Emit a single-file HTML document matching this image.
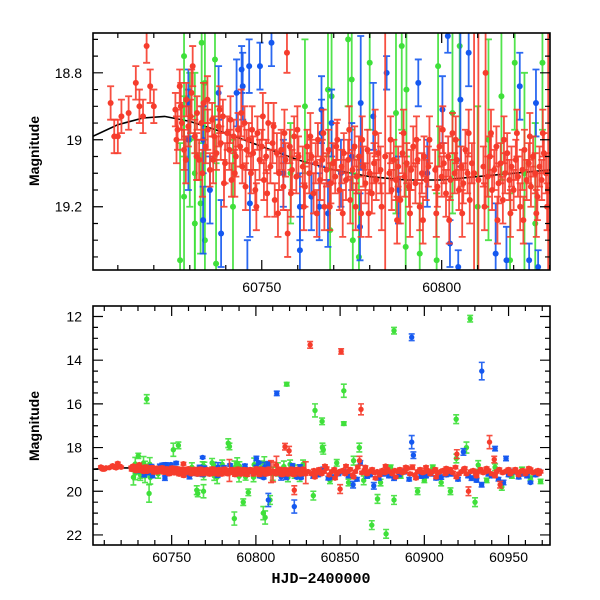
<!DOCTYPE html>
<html><head><meta charset="utf-8"><style>
html,body{margin:0;padding:0;background:#fff;width:600px;height:600px;overflow:hidden;}
svg{display:block;font-family:"Liberation Sans",sans-serif;}
</style></head><body>
<svg id="chart" width="600" height="600" viewBox="0 0 600 600" xmlns="http://www.w3.org/2000/svg">
<defs>
<clipPath id="clipTop"><rect x="93" y="33" width="457" height="237"/></clipPath>
<clipPath id="clipBot"><rect x="93" y="306" width="457" height="239"/></clipPath>
</defs>
<g id="topPlot"></g>
<g id="botPlot"></g>
<text x="0" y="0" transform="translate(39,151) rotate(-90)" text-anchor="middle" font-size="14" font-weight="bold">Magnitude</text>
<text x="0" y="0" transform="translate(39,426) rotate(-90)" text-anchor="middle" font-size="14" font-weight="bold">Magnitude</text>
<text x="321" y="583" text-anchor="middle" font-size="15" font-weight="bold" font-family="Liberation Mono, monospace">HJD−2400000</text>
</svg>
<script>
// ---- data: [time, magnitude, error] ----
const curveT = [60703,60710,60717,60723,60730,60740,60750,60760,60770,60780,60790,60800,60810,60820,60830];
const curveM = [18.99,18.955,18.935,18.93,18.945,18.98,19.02,19.06,19.09,19.11,19.12,19.12,19.11,19.10,19.09];

const greenPts = [
[60727.3,19.36,0.35],[60728.4,18.75,0.3],[60728.4,19.17,0.3],[60731.4,19.25,0.25],[60731.4,19.1,0.3],[60733.3,18.71,0.3],
[60734.2,18.83,0.2],[60734.2,19.3,0.3],[60737,18.76,0.3],[60737.3,19.37,0.3],[60733,19.19,0.15],[60730,19.0,0.2],
[60730.2,18.38,0.12],[60735.2,15.78,0.2],[60736.6,20.1,0.4],[60751,18.1,0.3],[60754,17.9,0.15],[60742,19.2,0.2],
[60758,19.1,0.15],[60762,18.9,0.2],[60764.9,19.95,0.2],[60765.5,20.1,0.15],[60768.9,20.0,0.3],[60768.4,18.85,0.2],
[60769.4,18.87,0.2],[60769,19.27,0.2],[60774,18.70,0.2],[60775,18.82,0.15],[60775.3,19.3,0.2],[60777,19.35,0.3],
[60780,18.77,0.2],[60783.6,17.8,0.2],[60784.3,17.95,0.15],[60787.2,21.25,0.3],[60787.3,18.92,0.3],[60788.9,18.72,0.25],
[60790.2,18.85,0.2],[60790,19.32,0.25],[60792.5,20.5,0.15],[60793.9,19.34,0.15],[60795.5,20.05,0.15],[60798.6,19.36,0.2],
[60799,18.78,0.3],[60803,18.92,0.3],[60804.4,21.0,0.3],[60805,18.72,0.3],[60805.5,21.2,0.3],[60808.4,20.4,0.2],
[60810,19.2,0.3],[60813,19.0,0.3],[60816.6,18.87,0.25],[60818.3,15.1,0.08],[60819,19.36,0.2],[60820.3,18.77,0.2],
[60823,19.1,0.3],[60828,18.77,0.2],[60826,19.25,0.3],[60834.1,20.2,0.2],[60835.1,16.3,0.3],[60839.3,16.8,0.15],
[60839.5,18.0,0.2],[60840,18.1,0.2],[60844,19.5,0.15],[60848,18.7,0.15],[60852.2,15.4,0.3],[60852.2,16.9,0.08],
[60855,19.6,0.15],[60858,18.6,0.2],[60861.4,18.0,0.2],[60864,19.5,0.2],[60868.8,21.55,0.2],[60872.2,20.35,0.2],
[60874,19.6,0.15],[60877.3,21.95,0.2],[60880,18.9,0.1],[60882,12.65,0.15],[60882,20.4,0.2],[60886,19.3,0.1],
[60896,20.0,0.15],[60900,19.5,0.1],[60905,18.9,0.1],[60910,19.6,0.15],[60915.5,20.0,0.15],[60918.9,16.7,0.2],
[60919,18.5,0.2],[60925,18.0,0.25],[60927.2,12.1,0.15],[60930.1,20.5,0.2],[60932,18.8,0.2],[60937,19.5,0.1],
[60942,18.9,0.15],[60946,19.8,0.15],[60952,19.3,0.1],[60958,19.0,0.1],[60963,19.4,0.1],[60969,19.55,0.1]
];

const bluePts = [
[60729.6,18.89,0.1],[60729.6,19.0,0.15],[60733.7,19.24,0.1],[60733.7,19.0,0.1],[60735.6,19.15,0.1],[60738.7,19.28,0.1],
[60738,18.86,0.08],[60743,18.86,0.1],[60744.4,18.79,0.07],[60744.7,18.84,0.1],[60746,19.4,0.1],[60746.5,18.78,0.08],
[60746.7,19.19,0.1],[60749.5,18.78,0.07],[60752.7,18.71,0.07],[60756,19.1,0.1],[60760.6,19.2,0.1],[60760.6,19.33,0.1],
[60763.8,19.17,0.1],[60766,19.2,0.1],[60766.6,18.91,0.1],[60766.6,18.98,0.1],[60768.4,19.22,0.1],[60768.4,18.45,0.05],
[60769.4,18.95,0.1],[60772,19.1,0.1],[60775,19.05,0.1],[60777.5,18.89,0.2],[60777.3,19.26,0.1],[60781,18.93,0.1],
[60784.7,18.8,0.05],[60788,19.15,0.1],[60793.5,18.83,0.07],[60796,19.1,0.1],[60800.2,18.91,0.1],[60800.3,18.5,0.1],
[60801.7,18.69,0.05],[60802.3,19.31,0.07],[60804.6,19.38,0.05],[60805.2,18.88,0.2],[60807.4,20.4,0.3],[60807.5,18.74,0.1],
[60812.4,15.52,0.1],[60815,19.34,0.15],[60818,19.36,0.1],[60821.7,18.84,0.1],[60822.8,20.7,0.3],[60824.3,19.36,0.05],
[60826.2,18.89,0.1],[60826.8,19.38,0.05],[60834,19.3,0.1],[60840,19.0,0.1],[60846,19.35,0.1],[60852,19.1,0.1],
[60857.7,19.7,0.15],[60862,18.7,0.1],[60866,19.3,0.1],[60870,19.75,0.15],[60876,19.2,0.1],[60882,19.4,0.1],
[60888,19.1,0.1],[60892.5,12.95,0.15],[60892.5,17.75,0.3],[60893.5,18.35,0.15],[60898,19.3,0.1],[60904,19.2,0.1],
[60910,19.35,0.1],[60916,19.2,0.1],[60923.2,18.2,0.15],[60928,19.4,0.1],[60934,19.7,0.1],[60934.1,14.5,0.4],
[60938,19.2,0.1],[60942,18.05,0.1],[60947,19.6,0.1],[60948.5,18.5,0.1],[60953,19.1,0.1],[60958,19.2,0.1],
[60963,19.6,0.05],[60968,19.1,0.1]
];
const blueExtra = [
[60837,19.25,0.08],[60843,19.4,0.08],[60849,19.2,0.08],[60855,19.3,0.08],[60860,19.45,0.08],[60868,19.25,0.08],
[60873,19.4,0.08],[60879,19.3,0.08],[60885,19.25,0.08],[60891,19.45,0.08],[60901,19.3,0.08],[60907,19.4,0.08],
[60913,19.25,0.08],[60920,19.45,0.08],[60926,19.3,0.08],[60931,19.5,0.08],[60940,19.3,0.08],[60944,19.45,0.08],
[60950,19.25,0.08],[60956,19.35,0.08],[60961,19.3,0.08],[60966,19.25,0.08]
];

const redPts = [
[60708,18.89,0.05],[60709,18.99,0.05],[60710,18.99,0.05],[60711,18.93,0.05],[60713,18.92,0.05],[60715,18.83,0.05],
[60716,18.90,0.05],[60717,18.93,0.05],[60718,18.72,0.05],[60719,18.84,0.05],[60720,18.90,0.05],
[60726,18.91,0.05],[60726.6,18.97,0.06],[60727.2,18.84,0.05],[60727.8,18.95,0.05],[60728.4,19.03,0.06],[60729,18.88,0.05],
[60729.6,18.96,0.06],[60730.2,18.93,0.05],[60730.8,18.78,0.06],[60731.4,18.99,0.05],[60732,18.92,0.05],[60732.6,19.06,0.06],
[60733.2,18.95,0.05],[60733.8,18.89,0.06],[60734.4,19.02,0.05],[60735,18.97,0.06],[60735.6,19.09,0.05],[60736.2,18.94,0.05],
[60736.8,18.99,0.06],[60737.4,19.04,0.05],[60738,18.96,0.06],[60738.6,19.01,0.05],[60739.2,18.93,0.05],[60739.8,19.07,0.06],
[60740.4,18.98,0.05],[60741,19.03,0.06],[60741.6,19.12,0.05],[60742.2,18.99,0.05],[60742.8,19.05,0.06],[60743.4,18.97,0.05],
[60744,19.02,0.06],[60744.6,19.08,0.05],[60745.2,18.95,0.05],[60745.8,19.03,0.06],[60746.4,19.00,0.05],[60747,19.10,0.06],
[60747.6,19.04,0.05],[60748.2,19.15,0.06],[60748.8,18.98,0.05],[60749.4,19.06,0.06],[60750,19.02,0.05],[60750.6,19.12,0.06],
[60751.2,19.05,0.05],[60751.8,18.95,0.06],[60752.4,19.08,0.05],[60753,19.01,0.06],[60753.6,19.18,0.05],[60754.2,19.04,0.06],
[60754.8,19.10,0.05],[60755.4,19.03,0.06],[60756,19.14,0.07],[60756.6,19.06,0.05],[60757,18.74,0.06],[60757.2,19.28,0.07],
[60757.8,19.02,0.05],[60758.4,19.09,0.06],[60759,18.99,0.06],[60759.6,19.11,0.05],[60760.2,19.05,0.06],[60761.4,19.08,0.06],
[60762,19.14,0.06],[60762.6,19.02,0.05],[60763.2,19.10,0.06],[60763.8,19.05,0.05],[60764.4,19.16,0.06],[60765,19.07,0.06],
[60765.6,19.00,0.05],[60766.2,19.12,0.06],[60766.8,19.06,0.06],[60767.4,19.20,0.07],[60768,19.09,0.05],[60768.6,19.03,0.06],
[60769.2,19.13,0.06],[60769.8,19.07,0.06],[60770.4,19.11,0.05],[60771,19.00,0.06],[60771.6,19.15,0.06],[60772.2,19.08,0.05],
[60772.8,19.04,0.06],[60773.4,19.12,0.06],[60774,19.06,0.06],[60774.6,19.18,0.07],[60775.2,19.09,0.06],[60775.8,19.02,0.06],
[60776.4,19.11,0.05],[60777,19.05,0.06],[60777.6,19.22,0.07],[60778.2,19.08,0.06],[60778.8,19.13,0.06],[60779.4,19.03,0.06],
[60780,19.10,0.06],[60780.6,19.16,0.06],[60781.2,19.07,0.06],[60781.8,19.12,0.06],[60782.4,19.04,0.06],[60783,19.09,0.07],
[60784.3,19.05,0.5],[60785.5,19.10,0.06],[60786.1,19.15,0.06],[60786.7,19.06,0.06],[60787.3,19.12,0.06],[60787.9,19.08,0.06],
[60788.5,19.18,0.07],[60789.1,19.04,0.06],[60789.7,19.11,0.06],[60790.3,19.07,0.06],[60790.9,19.14,0.06],[60791.5,19.09,0.06],
[60792.1,19.02,0.06],[60792.7,19.13,0.06],[60793.3,19.06,0.06],[60793.9,19.20,0.07],[60794.5,19.10,0.06],[60795.1,19.05,0.06],
[60795.7,19.12,0.06],[60796.3,19.08,0.06],[60798.2,19.09,0.06],[60798.8,19.14,0.06],[60799.4,19.02,0.06],[60800,19.11,0.06],
[60800.6,19.07,0.06],[60801.2,19.16,0.07],[60801.8,19.05,0.06],[60802.4,19.12,0.06],[60803,18.98,0.06],[60803.6,19.10,0.06],
[60804.2,19.06,0.06],[60804.8,19.15,0.06],[60805.4,19.08,0.06],[60806,19.13,0.06],[60806.6,19.03,0.06],[60807.2,19.10,0.06],
[60807.8,19.18,0.07],[60808.4,19.07,0.06],[60809,19.10,0.5],[60810.2,19.12,0.45],[60811.6,19.08,0.06],[60812.2,18.80,0.4],
[60812.8,19.11,0.06],[60813.4,19.05,0.06],[60814,19.15,0.06],[60814.6,19.09,0.06],[60815.2,19.02,0.06],[60815.8,19.13,0.06],
[60816.4,19.07,0.06],[60817,19.18,0.07],[60817.3,17.96,0.15],[60817.6,19.10,0.06],[60818.2,19.04,0.06],[60818.8,19.12,0.06],
[60819.4,19.08,0.06],[60819.7,18.15,0.2],[60820,19.15,0.06],[60820.6,19.06,0.06],[60821.2,19.11,0.06],[60821.8,19.20,0.07],
[60822.4,19.09,0.06],[60822.8,19.95,0.2],[60823,19.03,0.06],[60823.6,19.12,0.06],[60824.2,19.07,0.06],[60824.8,19.14,0.06],
[60825.4,19.05,0.06],[60826,19.10,0.06],[60826.6,19.17,0.07],[60827.2,19.08,0.06],[60827.8,19.12,0.06],[60828.4,19.04,0.06],
[60829,19.10,0.06],[60829.6,19.15,0.5],
[60831,19.1,0.06],[60832.2,13.3,0.15],[60833,19.2,0.06],[60834.5,19.05,0.06],[60836,19.15,0.06],[60837.5,19.0,0.06],
[60839,19.2,0.06],[60840.5,19.1,0.06],[60842,18.95,0.06],[60843.5,19.25,0.06],[60845,19.1,0.06],[60846.5,19.0,0.06],
[60848,19.2,0.06],[60849.5,19.1,0.06],[60850,19.9,0.2],[60850.6,13.6,0.12],[60851.5,19.05,0.06],[60853,19.2,0.06],
[60854.5,19.1,0.06],[60856,19.0,0.06],[60857.5,19.25,0.06],[60859,19.1,0.06],[60860.5,18.9,0.06],[60861.5,18.6,0.2],
[60862.4,16.25,0.25],[60863,19.15,0.06],[60864.5,19.05,0.06],[60866,19.2,0.06],[60867.5,19.1,0.06],[60869,19.0,0.06],
[60870.5,19.15,0.06],[60872,19.1,0.06],[60873.5,19.25,0.06],[60875,19.05,0.06],[60876.5,19.15,0.06],[60878,19.0,0.06],
[60879.5,19.1,0.06],[60881,19.2,0.06],[60882.5,19.05,0.06],[60884,19.1,0.06],[60885.5,19.0,0.06],[60887,19.15,0.06],
[60888.5,19.1,0.06],[60890,18.95,0.06],[60891.5,19.2,0.06],[60893,18.9,0.1],[60894.5,19.25,0.06],[60896,19.1,0.06],
[60897.5,19.0,0.06],[60899,19.15,0.06],[60900.5,19.1,0.06],[60902,19.05,0.06],[60903.5,19.2,0.06],[60905,19.1,0.06],
[60906.5,19.0,0.06],[60908,19.15,0.06],[60909.5,19.1,0.06],[60911,19.05,0.06],[60912.5,19.2,0.06],[60914,19.1,0.06],
[60915.5,19.0,0.06],[60917,19.15,0.06],[60918.5,18.9,0.06],[60919.3,18.3,0.2],[60920.5,19.2,0.06],[60922,19.1,0.06],
[60923.5,19.0,0.06],[60925,19.2,0.06],[60926.2,20.0,0.2],[60927.5,19.1,0.06],[60929,19.05,0.06],[60930.5,19.2,0.06],
[60932,19.1,0.06],[60933.5,19.0,0.06],[60935,19.15,0.06],[60936.5,19.1,0.06],[60938,19.05,0.06],[60938.7,17.75,0.3],
[60940,19.2,0.06],[60941.5,18.55,0.15],[60943,19.1,0.06],[60944.5,19.0,0.06],[60945,19.7,0.15],[60946.5,19.15,0.06],
[60948,19.1,0.06],[60949.5,19.05,0.06],[60951,19.2,0.06],[60952.5,19.1,0.06],[60954,19.0,0.06],[60955.5,19.15,0.06],
[60957,19.1,0.06],[60958.5,19.05,0.06],[60960,19.2,0.06],[60961.5,19.1,0.06],[60963,19.0,0.06],[60964.5,19.15,0.06],
[60966,19.1,0.06],[60967.5,19.05,0.06],[60969,19.1,0.06]
];
const redExtra = [
[60726.3,19.0,0.07],[60727.5,18.9,0.07],[60728.9,19.06,0.07],[60730.5,18.86,0.07],[60731.9,19.05,0.07],[60733.5,19.1,0.07],
[60734.9,18.88,0.07],[60736.5,19.06,0.07],[60738.3,18.91,0.07],[60739.5,19.13,0.07],[60741.3,18.94,0.07],[60742.5,19.1,0.07],
[60744.3,18.92,0.07],[60745.5,19.14,0.07],[60747.3,18.97,0.07],[60748.5,19.2,0.07],[60750.3,18.93,0.07],[60751.5,19.16,0.07],
[60753.3,18.96,0.07],[60754.5,19.22,0.07],[60756.3,18.98,0.07],[60758.1,19.16,0.07],[60759.9,18.97,0.07],[60761.7,19.2,0.07],
[60763.5,18.99,0.07],[60765.3,19.22,0.07],[60767.1,18.98,0.07],[60768.9,19.2,0.07],[60770.7,19.02,0.07],[60772.5,19.22,0.07],
[60774.3,18.97,0.07],[60776.1,19.2,0.07],[60777.9,19.0,0.07],[60779.7,19.22,0.07],[60781.5,18.98,0.07],[60783.3,19.2,0.07],
[60785.8,19.0,0.07],[60787.6,19.24,0.07],[60789.4,18.98,0.07],[60791.2,19.22,0.07],[60793,19.0,0.07],[60794.8,19.24,0.07],
[60796.6,19.0,0.07],[60798.5,19.22,0.07],[60800.3,18.97,0.07],[60802.1,19.24,0.07],[60803.9,19.0,0.07],[60805.7,19.22,0.07],
[60807.5,18.98,0.07],[60811.9,19.2,0.07],[60813.7,18.98,0.07],[60815.5,19.24,0.07],[60817.3,19.0,0.07],[60819.1,19.22,0.07],
[60820.9,18.98,0.07],[60822.7,19.24,0.07],[60824.5,18.99,0.07],[60826.3,19.22,0.07],[60828.1,18.98,0.07],[60829.3,19.2,0.07],
[60835,19.35,0.06],[60841,18.85,0.06],[60847,19.4,0.06],[60853.5,18.85,0.06],[60858,19.35,0.06],[60865,18.9,0.06],
[60871,19.4,0.06],[60877,18.85,0.06],[60883,19.35,0.06],[60889,18.9,0.06],[60895,19.4,0.06],[60901,18.9,0.06],
[60907,19.35,0.06],[60913,18.95,0.06],[60919,19.35,0.06],[60924,18.95,0.06],[60931,19.3,0.06],[60937,18.95,0.06],
[60942,19.3,0.06],[60950,19.0,0.06],[60956,19.25,0.06],[60962,18.95,0.06],[60968,19.2,0.06]
];

const topXTicks = [60750, 60800];
const topYTicks = [18.8, 19, 19.2];
const topYLabels = ["18.8", "19", "19.2"];
const botXTicks = [60750, 60800, 60850, 60900, 60950];
const botYTicks = [12, 14, 16, 18, 20, 22];

// ---- axes ----
const NS = "http://www.w3.org/2000/svg";
const L = 93, R = 550;
const pTop = {x0:60703.1, x1:60830.1, y0:18.681, y1:19.389, T:33, B:270};
const pBot = {x0:60703.3, x1:60974.6, y0:11.52, y1:22.46, T:306, B:545};
function sx(p, t){ return L + (t - p.x0) / (p.x1 - p.x0) * (R - L); }
function sy(p, m){ return p.T + (m - p.y0) / (p.y1 - p.y0) * (p.B - p.T); }
function mk(tag, attrs, parent){
  const e = document.createElementNS(NS, tag);
  for (const k in attrs) e.setAttribute(k, attrs[k]);
  parent.appendChild(e); return e;
}
function clampY(p, y){ return Math.max(p.T - 8, Math.min(p.B + 8, y)); }

function drawPanel(g, p, clipId, xMajor, xMinorStep, yMajor, yLabels, yMinorStep, xLabelY, dotR, cap, sw){
  const data = mk('g', {'clip-path':'url(#'+clipId+')'}, g);
  
  
  let d = '';
  for (let i = 0; i < curveT.length; i++) d += (i ? 'L' : 'M') + sx(p, curveT[i]).toFixed(1) + ',' + sy(p, curveM[i]).toFixed(1);
  const c = mk('path', {d:d, fill:'none', stroke:'#000', 'stroke-width':1.6}, data);
  
  
  const series = [['green', greenPts, '#3fe03a'], ['blue', bluePts.concat(blueExtra), '#1458f0'], ['red', redPts.concat(redExtra), '#f63c2c']];
  series.forEach(s => {
    const sg = mk('g', {fill:s[2], stroke:s[2]}, data);
    
    
    s[1].forEach(pt => {
      if (pt[0] < p.x0 || pt[0] > p.x1) return;
      if (pt[1] + pt[2] < p.y0 || pt[1] - pt[2] > p.y1) return;
      const x = sx(p, pt[0]), y = sy(p, pt[1]);
      const ya = clampY(p, sy(p, pt[1] - pt[2])), yb = clampY(p, sy(p, pt[1] + pt[2]));
      const pg = mk('g', {}, sg);
      
      
      mk('path', {d:'M'+x+','+ya+'V'+yb+'M'+(x-cap)+','+ya+'H'+(x+cap)+'M'+(x-cap)+','+yb+'H'+(x+cap), 'stroke-width':sw, 'stroke-opacity':0.9, fill:'none'}, pg);
      if (y >= p.T - 5 && y <= p.B + 5) mk('circle', {cx:x, cy:y, r:dotR, stroke:'none'}, pg);
    });
  });
  const tk = mk('g', {stroke:'#000', 'stroke-width':1.2}, g);
  
  
  let td = '';
  for (let t = Math.ceil(p.x0 / xMinorStep) * xMinorStep; t <= p.x1; t += xMinorStep){
    const x = sx(p, t); const major = xMajor.some(v => Math.abs(v - t) < 1e-6); const len = major ? 10 : 5;
    td += 'M'+x+','+p.B+'v'+(-len)+'M'+x+','+p.T+'v'+len;
  }
  for (let k = Math.ceil(p.y0 / yMinorStep); k * yMinorStep <= p.y1 + 1e-9; k++){
    const m = k * yMinorStep; const y = sy(p, m);
    const major = yMajor.some(v => Math.abs(v - m) < 1e-6); const len = major ? 10 : 5;
    td += 'M'+L+','+y+'h'+len+'M'+R+','+y+'h'+(-len);
  }
  mk('path', {d:td, fill:'none'}, tk);
  const fr = mk('rect', {x:L, y:p.T, width:R-L, height:p.B-p.T, fill:'none', stroke:'#000', 'stroke-width':1.6}, g);
  
  
  xMajor.forEach(t => {
    const e = mk('text', {x:sx(p, t), y:xLabelY, 'text-anchor':'middle', 'font-size':14}, g);
    
    
    e.textContent = String(t);
  });
  yMajor.forEach((m, i) => {
    const e = mk('text', {x:82, y:sy(p, m) + 5, 'text-anchor':'end', 'font-size':14}, g);
    
    
    e.textContent = yLabels[i];
  });
}
drawPanel(document.getElementById('topPlot'), pTop, 'clipTop', topXTicks, 10, topYTicks, topYLabels, 0.05, 292, 3, 3.5, 1.8);
drawPanel(document.getElementById('botPlot'), pBot, 'clipBot', botXTicks, 10, botYTicks, botYTicks.map(String), 0.5, 562, 2.7, 3, 1.6);
</script>
</body></html>
